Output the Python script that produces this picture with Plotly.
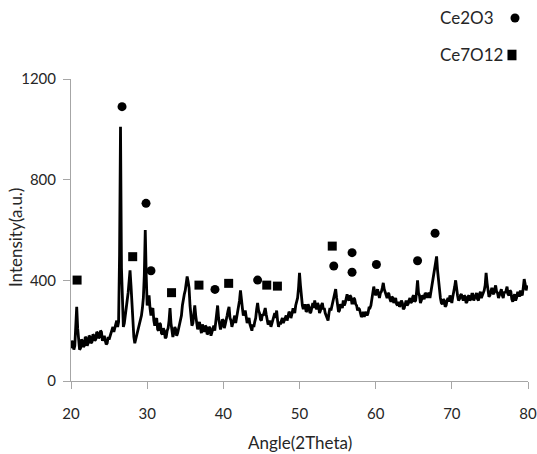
import plotly.graph_objects as go

# XRD pattern: intensity at 2-theta = 20, 20.25, ... 79.75
intensity_main = [
    130, 150, 140, 295, 170, 130, 160, 140, 170, 150, 175, 155, 180, 165, 190, 175,
    195, 170, 160, 150, 165, 190, 215, 210, 240, 235, 1010, 280, 230, 300, 350, 440,
    300, 175, 165, 200, 230, 260, 330, 600, 300, 340, 260, 290, 220, 250, 200, 225,
    185, 200, 175, 210, 290, 200, 190, 205, 190, 220, 260, 330, 360, 415, 370, 250,
    230, 300, 235, 220, 210, 225, 195, 215, 190, 210, 195, 220, 240, 300, 230, 220,
    240, 225, 260, 295, 240, 230, 260, 255, 290, 360, 290, 270, 255, 240, 225, 200,
    215, 250, 310, 270, 240, 260, 290, 250, 230, 215, 245, 270, 280, 215, 225, 250,
    240, 260, 255, 270, 265, 285, 300, 330, 430, 330, 285, 300, 280, 295, 275, 310,
    320, 285, 300, 280, 310, 290, 260, 240, 290, 300, 330, 365, 300, 280, 300, 320,
    310, 345, 320, 335, 310, 325, 300, 290, 270, 260, 255, 275, 270, 290, 320, 375,
    340, 365, 330, 355, 390, 350, 330, 345, 315, 330, 320, 305, 315, 300, 310, 290,
    320, 305, 330, 315, 340, 320, 400, 340, 320, 335, 350, 330, 345, 355, 400, 460,
    495, 400, 330, 305, 320, 300, 330, 340, 310, 350, 400, 340, 325, 345, 320, 335,
    315, 340, 325, 345, 330, 350, 320, 355, 340, 360, 430, 360, 340, 370, 345, 380,
    350, 340, 365, 330, 350, 375, 340, 355, 315, 345, 330, 350, 360, 340, 405, 360,
]
# intensity at 2-theta = 20.125, 20.375, ... 79.875 (the noise between the points above)
intensity_mid = [
    160, 125, 200, 210, 125, 165, 135, 175, 140, 180, 150, 185, 160, 195, 170, 200,
    160, 180, 145, 175, 180, 205, 195, 230, 215, 500, 450, 215, 270, 320, 400, 380,
    210, 150, 190, 215, 250, 290, 420, 420, 330, 290, 280, 240, 240, 205, 230, 190,
    210, 170, 200, 240, 230, 175, 215, 180, 210, 240, 300, 345, 390, 395, 300, 220,
    260, 260, 205, 235, 190, 205, 220, 185, 215, 180, 215, 200, 270, 250, 205, 245,
    210, 250, 280, 250, 215, 250, 230, 275, 320, 310, 260, 280, 230, 250, 210, 225,
    235, 285, 280, 245, 265, 275, 265, 225, 240, 230, 260, 250, 240, 235, 240, 230,
    255, 240, 275, 250, 285, 270, 315, 370, 380, 300, 300, 275, 305, 270, 300, 290,
    295, 310, 270, 300, 285, 270, 245, 270, 280, 320, 345, 330, 275, 305, 290, 300,
    330, 325, 340, 310, 330, 305, 280, 285, 255, 275, 265, 260, 290, 300, 345, 355,
    355, 345, 350, 370, 365, 335, 350, 325, 335, 310, 330, 300, 295, 320, 285, 305,
    300, 320, 310, 335, 315, 355, 350, 310, 340, 325, 345, 350, 330, 375, 425, 480,
    440, 350, 310, 325, 295, 320, 315, 325, 335, 375, 360, 320, 340, 330, 340, 310,
    335, 320, 345, 320, 345, 325, 345, 330, 355, 380, 390, 335, 360, 350, 365, 355,
    330, 355, 340, 355, 360, 345, 360, 325, 335, 320, 350, 335, 345, 370, 385, 380,
]
start_angle = 20.0
step = 0.25

# Phase markers
ce2o3_x = [26.7, 29.85, 30.5, 38.9, 44.5, 54.5, 56.9, 56.9, 60.1, 65.5, 67.8]
ce2o3_y = [1090, 706, 438, 364, 401, 457, 510, 432, 463, 478, 587]
ce7o12_x = [20.8, 28.1, 33.2, 36.8, 40.7, 45.7, 47.1, 54.3]
ce7o12_y = [401, 494, 351, 381, 388, 381, 377, 536]

x_ticks = [20, 30, 40, 50, 60, 70, 80]
y_ticks = [0, 400, 800, 1200]

angle, intensity = [], []
for i, (a, b) in enumerate(zip(intensity_main, intensity_mid)):
    angle += [start_angle + step * i, start_angle + step * i + step / 2]
    intensity += [a, b]

FONT = "Lato"
TXT = "#262626"
fig = go.Figure()
fig.add_trace(go.Scatter(x=angle, y=intensity, mode="lines",
                         line=dict(color="black", width=2.8), showlegend=False))
fig.add_trace(go.Scatter(x=ce2o3_x, y=ce2o3_y, mode="markers", name="Ce2O3",
                         marker=dict(symbol="circle", size=9, color="black"), showlegend=False))
fig.add_trace(go.Scatter(x=ce7o12_x, y=ce7o12_y, mode="markers", name="Ce7O12",
                         marker=dict(symbol="square", size=9, color="black"), showlegend=False))

axis_common = dict(showgrid=False, zeroline=False, showline=True, linecolor="#a6a6a6",
                   linewidth=1, ticks="outside", tickcolor="#a6a6a6", ticklen=7,
                   automargin=False, ticklabeloverflow="allow",
                   tickfont=dict(family=FONT, size=15, color=TXT))
fig.update_xaxes(range=[20, 80], tickvals=x_ticks, ticklabelstandoff=12, **axis_common)
fig.update_yaxes(range=[0, 1200], tickvals=y_ticks, ticklabelstandoff=4, **axis_common)

# Axis titles
fig.add_annotation(x=0.501, y=-0.202, xref="paper", yref="paper", text="Angle(2Theta)",
                   showarrow=False, xanchor="center", yanchor="middle",
                   font=dict(family=FONT, size=17, color=TXT))
fig.add_annotation(x=-0.120, y=0.477, xref="paper", yref="paper", text="Intensity(a.u.)",
                   showarrow=False, xanchor="center", yanchor="middle", textangle=-90,
                   font=dict(family=FONT, size=17, color=TXT))

# Legend built by hand (text then symbol)
fig.add_annotation(x=0.93, y=1.202, xref="paper", yref="paper", text="Ce2O3",
                   showarrow=False, xanchor="right", yanchor="middle",
                   font=dict(family=FONT, size=17, color=TXT))
fig.add_annotation(x=0.95, y=1.08, xref="paper", yref="paper", text="Ce7O12",
                   showarrow=False, xanchor="right", yanchor="middle",
                   font=dict(family=FONT, size=17, color=TXT))
fig.add_shape(type="circle", xref="paper", yref="paper", x0=0.9617, x1=0.9814,
              y0=1.187, y1=1.217, fillcolor="black", line=dict(width=0))
fig.add_shape(type="rect", xref="paper", yref="paper", x0=0.9551, x1=0.9748,
              y0=1.062, y1=1.097, fillcolor="black", line=dict(width=0))

fig.update_layout(width=537, height=454, paper_bgcolor="white", plot_bgcolor="white",
                  margin=dict(l=71, r=9, t=79, b=73))
# remove the browser's default 8px page margin so the figure fills the window
fig.write_html("out.html", config={"displayModeBar": False},
               post_script="document.body.style.margin='0';document.body.style.overflow='hidden';")
